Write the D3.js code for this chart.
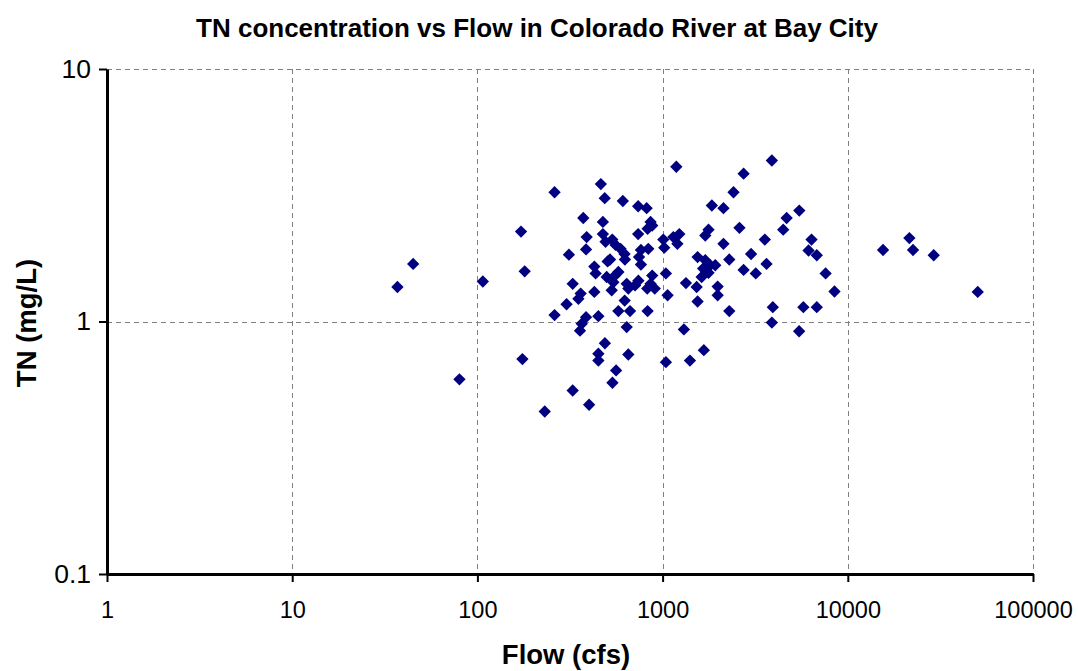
<!DOCTYPE html>
<html><head><meta charset="utf-8">
<script src="https://cdn.jsdelivr.net/npm/d3@7"></script>
<style>
body{margin:0;background:#fff}
svg{display:block}
text{font-family:"Liberation Sans",Arial,sans-serif;fill:#000}
</style>
</head><body>
<svg id="chart" width="1078" height="671"></svg>
<script>
// ---- data ----
const flow = [37,45,80,107,172,175,180,231,261,261,
  303,312,327,327,351,358,361,366,373,386,386,389,401,428,428,435,450,450,450,464,476,476,487,488,492,499,505,520,531,535,536,542,553,557,561,577,577,593,610,623,624,626,640,640,653,653,667,710,738,738,740,746,764,764,820,826,830,830,837,861,861,879,879,907,1009,1021,1042,1042,1064,1143,1186,1202,1231,1303,1337,1405,
  1527,1545,1545,1625,1655,1670,1700,1700,1770,1770,1808,1845,1924,1983,1983,2131,2131,2291,2291,2415,2600,2738,2738,3005,3185,3565,3640,3890,3890,3937,4480,4675,5460,5470,5755,6140,6370,6800,6800,7590,8475,
  15500,21500,22500,29100,50300];
const tn = [1.37,1.69,0.59,1.44,2.27,0.71,1.58,0.44,3.25,1.06,
  1.17,1.84,1.41,0.533,1.23,0.92,1.29,0.98,2.57,1.93,1.04,2.16,0.468,1.65,1.31,1.55,1.05,0.745,0.70,3.5,2.48,2.22,3.08,0.82,2.07,1.50,1.73,1.76,1.33,2.11,0.572,1.43,1.52,2.01,0.64,1.57,1.10,1.94,3.0,1.85,1.21,1.76,1.41,0.95,1.35,0.74,1.10,1.39,2.86,2.22,1.45,1.80,1.92,1.68,2.81,1.35,2.33,1.10,1.94,2.48,1.41,2.40,1.52,1.35,2.11,1.96,1.55,0.69,1.27,2.16,4.1,2.03,2.22,0.93,1.42,0.70,
  1.37,1.20,1.80,1.50,1.62,0.77,2.19,1.75,2.31,1.56,1.67,2.88,1.67,1.375,1.27,2.81,2.03,1.76,1.10,3.25,2.35,3.85,1.60,1.85,1.55,2.11,1.69,4.34,0.99,1.14,2.31,2.57,0.915,2.75,1.14,1.91,2.11,1.83,1.14,1.55,1.315,
  1.92,2.14,1.92,1.83,1.31];
const xTickValues = [1,10,100,1000,10000,100000];
const xTickLabels = ["1","10","100","1000","10000","100000"];
const yTickValues = [0.1,1,10];
const yTickLabels = ["0.1","1","10"];
const titleText = "TN concentration vs Flow in Colorado River at Bay City";
const xTitle = "Flow (cfs)";
const yTitle = "TN (mg/L)";

// ---- layout ----
const plot = {left:107, right:1033, top:69, bottom:574};
const svg = d3.select("#chart");

const x = d3.scaleLog().domain([1,100000]).range([plot.left, plot.right]);
const y = d3.scaleLog().domain([0.1,10]).range([plot.bottom, plot.top]);

// gridlines
const grid = svg.append("g").attr("stroke","#808080").attr("stroke-width",1).attr("stroke-dasharray","5,4");
grid.selectAll("line.v").data(xTickValues.slice(1)).join("line")
  .attr("x1",d=>Math.round(x(d))+0.5).attr("x2",d=>Math.round(x(d))+0.5)
  .attr("y1",plot.top).attr("y2",plot.bottom);
grid.selectAll("line.h").data(yTickValues.slice(1)).join("line")
  .attr("y1",d=>Math.round(y(d))+0.5).attr("y2",d=>Math.round(y(d))+0.5)
  .attr("x1",plot.left).attr("x2",plot.right);

// points
const pts = flow.map((f,i)=>({f, t:tn[i]}));
const sym = d3.symbol().type(d3.symbolSquare).size(76);
svg.append("g").selectAll("path").data(pts).join("path")
  .attr("d", sym)
  .attr("transform", d=>`translate(${x(d.f)},${y(d.t)}) rotate(45)`)
  .attr("fill","#000080");

// axes
const xAxis = d3.axisBottom(x).tickValues(xTickValues)
  .tickFormat((d,i)=>xTickLabels[i]).tickSizeInner(8).tickSizeOuter(0).tickPadding(19);
const gx = svg.append("g").attr("transform",`translate(0,${plot.bottom})`).call(xAxis);
gx.select(".domain").attr("stroke","#000").attr("stroke-width",3);
gx.selectAll(".tick line").attr("stroke","#000").attr("stroke-width",2);
gx.selectAll(".tick text").attr("font-size",23.5).attr("font-family","Liberation Sans, Arial, sans-serif");

const yAxis = d3.axisLeft(y).tickValues(yTickValues)
  .tickFormat((d,i)=>yTickLabels[i]).tickSizeInner(8).tickSizeOuter(0).tickPadding(8);
const gy = svg.append("g").attr("transform",`translate(${plot.left},0)`).call(yAxis);
gy.select(".domain").attr("stroke","#000").attr("stroke-width",3);
gy.selectAll(".tick line").attr("stroke","#000").attr("stroke-width",2);
gy.selectAll(".tick text").attr("font-size",26.5).attr("font-family","Liberation Sans, Arial, sans-serif");

// titles
svg.append("text").attr("x",537).attr("y",37).attr("text-anchor","middle")
  .attr("font-size",26).attr("font-weight","bold").text(titleText);
svg.append("text").attr("x",566).attr("y",664).attr("text-anchor","middle")
  .attr("font-size",27.5).attr("font-weight","bold").text(xTitle);
svg.append("text").attr("transform","translate(36,323) rotate(-90)").attr("text-anchor","middle")
  .attr("font-size",27.5).attr("font-weight","bold").text(yTitle);
</script>
</body></html>
